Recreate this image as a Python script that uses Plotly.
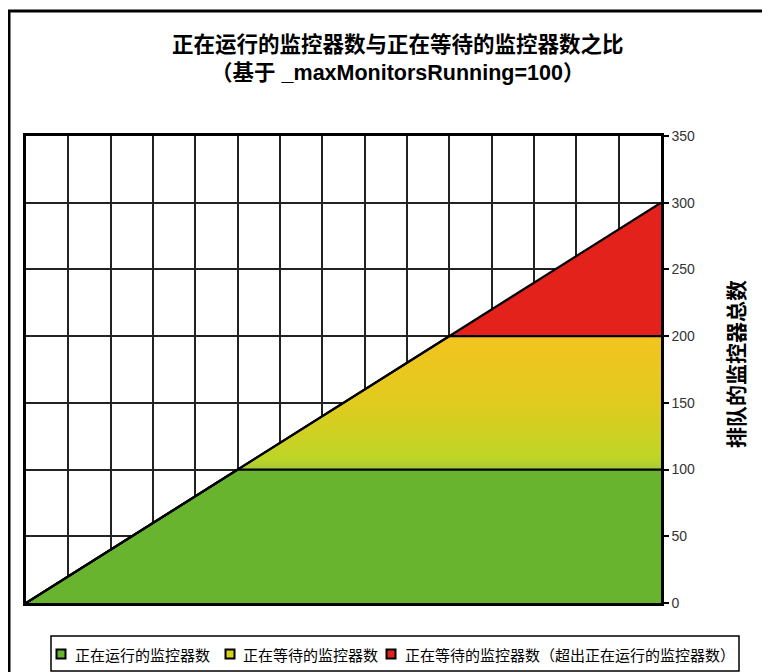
import plotly.graph_objects as go

# ---- data ----
x_steps = [0, 1, 2, 3, 4, 5, 6, 7, 8, 9, 10, 11, 12, 13, 14, 15]
running = [0, 20, 40, 60, 80, 100, 100, 100, 100, 100, 100, 100, 100, 100, 100, 100]
waiting = [0, 0, 0, 0, 0, 0, 20, 40, 60, 80, 100, 100, 100, 100, 100, 100]
excess = [0, 0, 0, 0, 0, 0, 0, 0, 0, 0, 0, 20, 40, 60, 80, 100]
series_names = ["正在运行的监控器数", "正在等待的监控器数", "正在等待的监控器数（超出正在运行的监控器数）"]
y_ticks = [0, 50, 100, 150, 200, 250, 300, 350]

title_l1 = "正在运行的监控器数与正在等待的监控器数之比"
title_l2 = "（基于 _maxMonitorsRunning=100）"
y_title = "排队的监控器总数"

GREEN = "#68B42F"
RED = "#E3221B"
LEG_COLORS = [GREEN, "#D6D21A", RED]
FONT = "Liberation Sans, Arial, Noto Sans CJK SC"
CJK = "Noto Sans CJK SC"

cum1 = running
cum2 = [a + b for a, b in zip(running, waiting)]
cum3 = [a + b + c for a, b, c in zip(running, waiting, excess)]

# plot area in figure pixels
L, T, W, H = 18, 128, 635, 467

def px(xp):
    return (xp - L) / W

def py(yp):
    return (T + H - yp) / H

fig = go.Figure()
fig.add_trace(go.Scatter(x=x_steps, y=[0] * len(x_steps), mode="lines",
                         line=dict(color="black", width=0), showlegend=False, hoverinfo="skip"))
fig.add_trace(go.Scatter(x=x_steps, y=cum1, mode="lines", fill="tonexty", fillcolor=GREEN,
                         name=series_names[0],
                         line=dict(color="black", width=2.2), showlegend=False))
fig.add_trace(go.Scatter(x=x_steps, y=cum2, mode="lines", fill="tonexty",
                         name=series_names[1],
                         fillgradient=dict(type="vertical", start=100, stop=200,
                                           colorscale=[[0, "#A6C936"], [0.08, "#BDD526"],
                                                       [0.5, "#E1CB1F"], [1, "#F3C31F"]]),
                         line=dict(color="black", width=2.2), showlegend=False))
fig.add_trace(go.Scatter(x=x_steps, y=cum3, mode="lines", fill="tonexty", fillcolor=RED,
                         name=series_names[2],
                         line=dict(color="black", width=2.2), showlegend=False))

annotations = [
    dict(text="<b>" + title_l1 + "</b><br><b>" + title_l2 + "</b>", xref="paper", yref="paper",
         x=px(390), y=py(50), xanchor="center", yanchor="middle", showarrow=False,
         font=dict(size=21.5, color="black", family=FONT)),
    dict(text="<b>" + y_title + "</b>", xref="paper", yref="paper", textangle=-90,
         x=px(728), y=py(356), xanchor="center", yanchor="middle",
         showarrow=False, font=dict(size=21, color="black", family=FONT)),
]
shapes = [
    dict(type="rect", xref="paper", yref="paper", x0=px(1), y0=py(720),
         x1=px(800), y1=py(3), line=dict(color="black", width=3), layer="below"),
    # legend box
    dict(type="rect", xref="paper", yref="paper", x0=px(43), y0=py(663),
         x1=px(731), y1=py(628), line=dict(color="black", width=1.5), fillcolor="white"),
]

# manual legend
icon_x = [53, 222, 383]
text_x = [65, 233, 395]
LY = 646
for name, col, ix, tx in zip(series_names, LEG_COLORS, icon_x, text_x):
    shapes.append(dict(type="rect", xref="paper", yref="paper",
                       x0=px(ix - 4.5), x1=px(ix + 4.5), y0=py(LY + 4.5), y1=py(LY - 4.5),
                       fillcolor=col, line=dict(color="black", width=2)))
    annotations.append(dict(text=name, xref="paper", yref="paper", x=px(tx), y=py(LY),
                            xanchor="left", yanchor="middle", showarrow=False,
                            font=dict(size=15, color="black", family=CJK)))

fig.update_layout(
    width=770, height=672,
    margin=dict(l=L, r=770 - L - W, t=T, b=672 - T - H),
    paper_bgcolor="white", plot_bgcolor="white",
    font=dict(family=FONT, size=12, color="#222"),
    showlegend=False,
    xaxis=dict(range=[0, 15], tickvals=x_steps, showticklabels=False, ticks="",
               showgrid=True, gridcolor="#222", gridwidth=1.5,
               showline=True, linecolor="black", linewidth=3, mirror=True, zeroline=False),
    yaxis=dict(range=[0, 350], tickvals=y_ticks, side="right", ticks="outside", ticklen=5,
               tickcolor="black", tickwidth=1.5,
               tickfont=dict(size=14, color="#333"),
               showgrid=True, gridcolor="#222", gridwidth=1.5,
               showline=True, linecolor="black", linewidth=2.5, mirror=True, zeroline=False),
    annotations=annotations,
    shapes=shapes,
)

fig.write_html("out.html")
